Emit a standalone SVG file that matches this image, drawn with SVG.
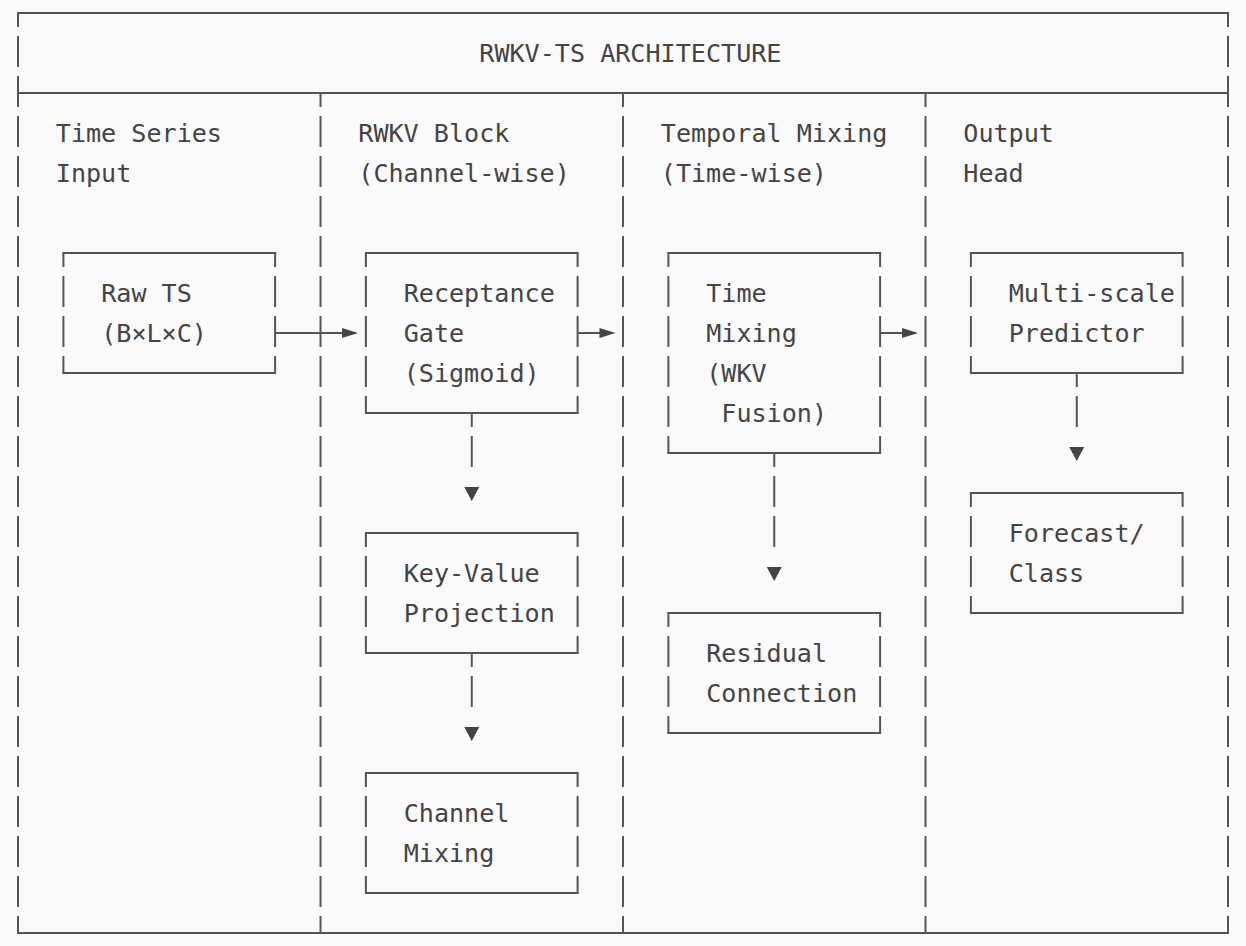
<svg xmlns="http://www.w3.org/2000/svg" xmlns:xlink="http://www.w3.org/1999/xlink" width="1246" height="946" viewBox="0 0 1246 946">
<style>
  .bg { fill: #fafafa; }
  .h { stroke: #555; stroke-width: 2; fill: none; }
  .v { stroke: #555; stroke-width: 2; fill: none; stroke-dasharray: 31 9; stroke-dashoffset: 17; }
  .c { stroke: #555; stroke-width: 2; fill: none; }
  .head { fill: #444; }
  text { font-family: "DejaVu Sans Mono", "Liberation Mono", monospace; font-size: 25.1px; fill: #444; white-space: pre; }
</style>
<defs>
  <path id="down" d="M -7.5 -6 L 7.5 -6 L 0 8 Z"/>
  <path id="right" d="M -8 -5 L 8 0 L -8 5 Z"/>
</defs>
<rect class="bg" x="0" y="0" width="1246" height="946"/>

<g id="frame">
  <line class="h" x1="17" y1="13" x2="1229" y2="13"/>
  <line class="h" x1="17" y1="93" x2="1229" y2="93"/>
  <line class="h" x1="17" y1="933" x2="1229" y2="933"/>
  <line class="v" x1="18" y1="13" x2="18" y2="933"/>
  <line class="v" x1="1228" y1="13" x2="1228" y2="933"/>
  <line class="v" x1="320.5" y1="93" x2="320.5" y2="933"/>
  <line class="v" x1="623" y1="93" x2="623" y2="933"/>
  <line class="v" x1="925.5" y1="93" x2="925.5" y2="933"/>
  <text x="479.3" y="62">RWKV-TS ARCHITECTURE</text>
</g>

<g id="column-headers">
  <text x="55.8" y="142">Time Series</text>
  <text x="55.8" y="182">Input</text>
  <text x="358.3" y="142">RWKV Block</text>
  <text x="358.3" y="182">(Channel-wise)</text>
  <text x="660.8" y="142">Temporal Mixing</text>
  <text x="660.8" y="182">(Time-wise)</text>
  <text x="963.3" y="142">Output</text>
  <text x="963.3" y="182">Head</text>
</g>

<g id="node-raw-ts">
  <line class="h" x1="62.4" y1="253" x2="276.1" y2="253"/>
  <line class="h" x1="62.4" y1="373" x2="276.1" y2="373"/>
  <line class="v" x1="63.4" y1="253" x2="63.4" y2="373"/>
  <line class="v" x1="275.1" y1="253" x2="275.1" y2="373"/>
  <text x="101.2" y="302">Raw TS</text>
  <text x="101.2" y="342">(B×L×C)</text>
</g>

<g id="node-receptance">
  <line class="h" x1="364.9" y1="253" x2="578.6" y2="253"/>
  <line class="h" x1="364.9" y1="413" x2="578.6" y2="413"/>
  <line class="v" x1="365.9" y1="253" x2="365.9" y2="413"/>
  <line class="v" x1="577.6" y1="253" x2="577.6" y2="413"/>
  <text x="403.7" y="302">Receptance</text>
  <text x="403.7" y="342">Gate</text>
  <text x="403.7" y="382">(Sigmoid)</text>
</g>

<g id="node-key-value">
  <line class="h" x1="364.9" y1="533" x2="578.6" y2="533"/>
  <line class="h" x1="364.9" y1="653" x2="578.6" y2="653"/>
  <line class="v" x1="365.9" y1="533" x2="365.9" y2="653"/>
  <line class="v" x1="577.6" y1="533" x2="577.6" y2="653"/>
  <text x="403.7" y="582">Key-Value</text>
  <text x="403.7" y="622">Projection</text>
</g>

<g id="node-channel-mixing">
  <line class="h" x1="364.9" y1="773" x2="578.6" y2="773"/>
  <line class="h" x1="364.9" y1="893" x2="578.6" y2="893"/>
  <line class="v" x1="365.9" y1="773" x2="365.9" y2="893"/>
  <line class="v" x1="577.6" y1="773" x2="577.6" y2="893"/>
  <text x="403.7" y="822">Channel</text>
  <text x="403.7" y="862">Mixing</text>
</g>

<g id="node-time-mixing">
  <line class="h" x1="667.4" y1="253" x2="881.1" y2="253"/>
  <line class="h" x1="667.4" y1="453" x2="881.1" y2="453"/>
  <line class="v" x1="668.4" y1="253" x2="668.4" y2="453"/>
  <line class="v" x1="880.1" y1="253" x2="880.1" y2="453"/>
  <text x="706.2" y="302">Time</text>
  <text x="706.2" y="342">Mixing</text>
  <text x="706.2" y="382">(WKV</text>
  <text x="721.3" y="422">Fusion)</text>
</g>

<g id="node-residual">
  <line class="h" x1="667.4" y1="613" x2="881.1" y2="613"/>
  <line class="h" x1="667.4" y1="733" x2="881.1" y2="733"/>
  <line class="v" x1="668.4" y1="613" x2="668.4" y2="733"/>
  <line class="v" x1="880.1" y1="613" x2="880.1" y2="733"/>
  <text x="706.2" y="662">Residual</text>
  <text x="706.2" y="702">Connection</text>
</g>

<g id="node-multiscale">
  <line class="h" x1="969.9" y1="253" x2="1183.6" y2="253"/>
  <line class="h" x1="969.9" y1="373" x2="1183.6" y2="373"/>
  <line class="v" x1="970.9" y1="253" x2="970.9" y2="373"/>
  <line class="v" x1="1182.6" y1="253" x2="1182.6" y2="373"/>
  <text x="1008.7" y="302">Multi-scale</text>
  <text x="1008.7" y="342">Predictor</text>
</g>

<g id="node-forecast">
  <line class="h" x1="969.9" y1="493" x2="1183.6" y2="493"/>
  <line class="h" x1="969.9" y1="613" x2="1183.6" y2="613"/>
  <line class="v" x1="970.9" y1="493" x2="970.9" y2="613"/>
  <line class="v" x1="1182.6" y1="493" x2="1182.6" y2="613"/>
  <text x="1008.7" y="542">Forecast/</text>
  <text x="1008.7" y="582">Class</text>
</g>

<g id="connectors">
  <line class="c" x1="275.1" y1="333" x2="343" y2="333"/>
  <use xlink:href="#right" class="head" transform="translate(350,333)"/>
  <line class="c" x1="577.6" y1="333" x2="601" y2="333"/>
  <use xlink:href="#right" class="head" transform="translate(607.5,333)"/>
  <line class="c" x1="880.1" y1="333" x2="904" y2="333"/>
  <use xlink:href="#right" class="head" transform="translate(910,333)"/>

  <line class="v" x1="471.75" y1="413" x2="471.75" y2="467"/>
  <use xlink:href="#down" class="head" transform="translate(471.75,493)"/>
  <line class="v" x1="471.75" y1="653" x2="471.75" y2="707"/>
  <use xlink:href="#down" class="head" transform="translate(471.75,733)"/>
  <line class="v" x1="774.25" y1="453" x2="774.25" y2="547"/>
  <use xlink:href="#down" class="head" transform="translate(774.25,573)"/>
  <line class="v" x1="1076.75" y1="373" x2="1076.75" y2="427"/>
  <use xlink:href="#down" class="head" transform="translate(1076.75,453)"/>
</g>
</svg>
